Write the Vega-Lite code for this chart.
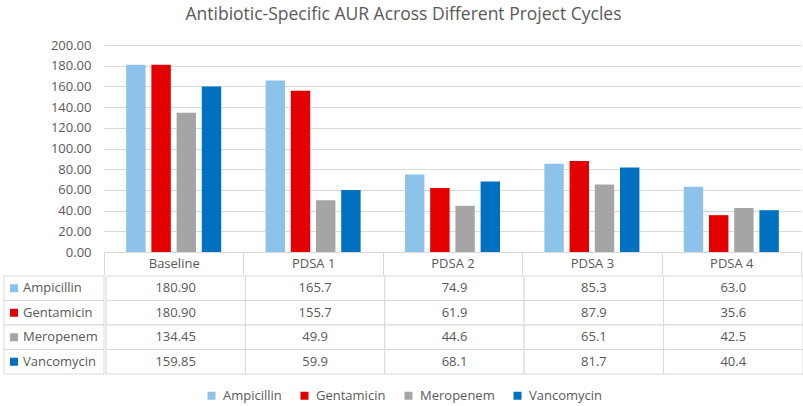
{
  "$schema": "https://vega.github.io/schema/vega-lite/v6.json",
  "padding": {"left": 3, "right": 3, "top": 5, "bottom": 2},
  "title": {
    "text": "Antibiotic-Specific AUR Across Different Project Cycles",
    "anchor": "middle",
    "fontSize": 17.5,
    "fontWeight": "normal",
    "color": "#595959",
    "offset": 16
  },
  "data": {
    "values": [
      {"cycle": "Baseline", "antibiotic": "Ampicillin", "value": 180.90},
      {"cycle": "Baseline", "antibiotic": "Gentamicin", "value": 180.90},
      {"cycle": "Baseline", "antibiotic": "Meropenem", "value": 134.45},
      {"cycle": "Baseline", "antibiotic": "Vancomycin", "value": 159.85},
      {"cycle": "PDSA 1", "antibiotic": "Ampicillin", "value": 165.7},
      {"cycle": "PDSA 1", "antibiotic": "Gentamicin", "value": 155.7},
      {"cycle": "PDSA 1", "antibiotic": "Meropenem", "value": 49.9},
      {"cycle": "PDSA 1", "antibiotic": "Vancomycin", "value": 59.9},
      {"cycle": "PDSA 2", "antibiotic": "Ampicillin", "value": 74.9},
      {"cycle": "PDSA 2", "antibiotic": "Gentamicin", "value": 61.9},
      {"cycle": "PDSA 2", "antibiotic": "Meropenem", "value": 44.6},
      {"cycle": "PDSA 2", "antibiotic": "Vancomycin", "value": 68.1},
      {"cycle": "PDSA 3", "antibiotic": "Ampicillin", "value": 85.3},
      {"cycle": "PDSA 3", "antibiotic": "Gentamicin", "value": 87.9},
      {"cycle": "PDSA 3", "antibiotic": "Meropenem", "value": 65.1},
      {"cycle": "PDSA 3", "antibiotic": "Vancomycin", "value": 81.7},
      {"cycle": "PDSA 4", "antibiotic": "Ampicillin", "value": 63.0},
      {"cycle": "PDSA 4", "antibiotic": "Gentamicin", "value": 35.6},
      {"cycle": "PDSA 4", "antibiotic": "Meropenem", "value": 42.5},
      {"cycle": "PDSA 4", "antibiotic": "Vancomycin", "value": 40.4}
    ]
  },
  "spacing": 0,
  "vconcat": [
    {
      "spacing": 0,
      "bounds": "flush",
      "hconcat": [
        {
          "width": 100,
          "height": 207,
          "mark": {"type": "text"},
          "encoding": {"text": {"value": ""}}
        },
        {
          "width": 697,
          "height": 207,
          "mark": {"type": "bar"},
          "encoding": {
            "x": {
              "field": "cycle", "type": "nominal",
              "sort": ["Baseline", "PDSA 1", "PDSA 2", "PDSA 3", "PDSA 4"],
              "scale": {"paddingInner": 0, "paddingOuter": 0},
              "axis": {
                "title": null, "labelAngle": 0, "tickBand": "extent",
                "tickSize": 22.5, "tickColor": "#d9d9d9", "domainColor": "#d9d9d9",
                "labelPadding": -17, "labelBaseline": "top"
              }
            },
            "xOffset": {
              "field": "antibiotic",
              "sort": ["Ampicillin", "Gentamicin", "Meropenem", "Vancomycin"],
              "scale": {"paddingInner": 0.23, "paddingOuter": 0.88}
            },
            "y": {
              "field": "value", "type": "quantitative",
              "scale": {"domain": [0, 200]},
              "axis": {
                "title": null, "format": ".2f",
                "values": [0, 20, 40, 60, 80, 100, 120, 140, 160, 180, 200],
                "grid": true, "gridColor": "#d9d9d9", "domain": false, "ticks": false,
                "labelPadding": 13
              }
            },
            "color": {
              "field": "antibiotic", "type": "nominal",
              "scale": {
                "domain": ["Ampicillin", "Gentamicin", "Meropenem", "Vancomycin"],
                "range": ["#8dc3ea", "#e30000", "#a5a5a5", "#0070c0"]
              },
              "legend": {"title": null}
            }
          }
        }
      ]
    },
    {
      "spacing": 0,
      "hconcat": [
        {
          "width": 100,
          "height": 98,
          "transform": [{"filter": "datum.cycle === 'Baseline'"}],
          "encoding": {
            "y": {
              "field": "antibiotic", "type": "nominal",
              "sort": ["Ampicillin", "Gentamicin", "Meropenem", "Vancomycin"],
              "scale": {"paddingInner": 0, "paddingOuter": 0},
              "axis": null
            }
          },
          "layer": [
            {
              "mark": {"type": "rect", "fill": "white", "stroke": "#d9d9d9"},
              "encoding": {
                "x": {"datum": "label", "type": "nominal", "scale": {"paddingInner": 0, "paddingOuter": 0}, "axis": null}
              }
            },
            {
              "mark": {"type": "square", "size": 64, "opacity": 1},
              "encoding": {
                "x": {"datum": "label", "type": "nominal", "bandPosition": 0.1},
                "color": {"field": "antibiotic", "type": "nominal", "legend": {"title": null}}
              }
            },
            {
              "mark": {"type": "text", "align": "left", "fontSize": 13, "color": "#595959"},
              "encoding": {
                "x": {"datum": "label", "type": "nominal", "bandPosition": 0.19},
                "text": {"field": "antibiotic"}
              }
            }
          ]
        },
        {
          "width": 697,
          "height": 98,
          "encoding": {
            "x": {
              "field": "cycle", "type": "nominal",
              "sort": ["Baseline", "PDSA 1", "PDSA 2", "PDSA 3", "PDSA 4"],
              "scale": {"paddingInner": 0, "paddingOuter": 0},
              "axis": null
            },
            "y": {
              "field": "antibiotic", "type": "nominal",
              "sort": ["Ampicillin", "Gentamicin", "Meropenem", "Vancomycin"],
              "scale": {"paddingInner": 0, "paddingOuter": 0},
              "axis": null
            }
          },
          "layer": [
            {"mark": {"type": "rect", "fill": "white", "stroke": "#d9d9d9"}},
            {
              "mark": {"type": "text", "fontSize": 13, "color": "#595959"},
              "encoding": {
                "text": {
                  "condition": {"test": "datum.cycle === 'Baseline'", "field": "value", "type": "quantitative", "format": ".2f"},
                  "field": "value", "type": "quantitative", "format": ".1f"
                }
              }
            }
          ]
        }
      ]
    }
  ],
  "config": {
    "font": "Open Sans",
    "view": {"stroke": null},
    "axis": {"labelFontSize": 13, "labelColor": "#595959"},
    "legend": {
      "orient": "bottom",
      "direction": "horizontal",
      "symbolType": "square",
      "symbolSize": 64,
      "symbolStrokeWidth": 0,
      "labelFontSize": 13,
      "labelColor": "#595959",
      "labelOffset": 5,
      "columnPadding": 16,
      "offset": 14,
      "layout": {"bottom": {"anchor": "middle"}}
    }
  }
}
